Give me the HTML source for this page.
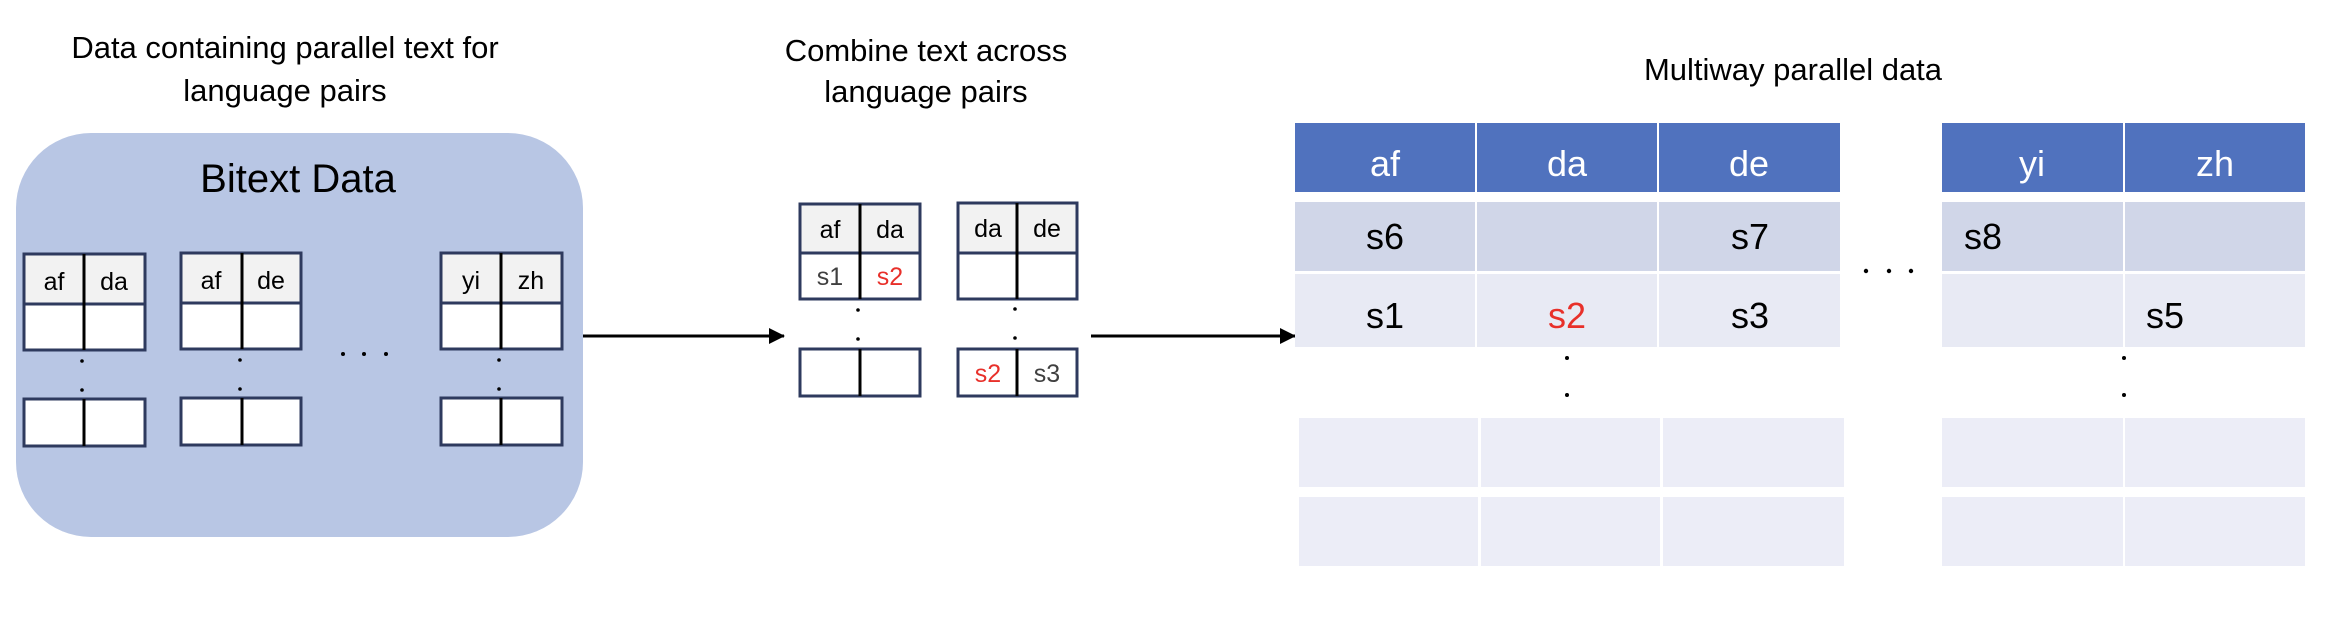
<!DOCTYPE html>
<html><head><meta charset="utf-8"><style>
html,body{margin:0;padding:0;background:#fff;}
svg{display:block;}
text{font-family:"Liberation Sans",sans-serif;}
</style></head><body>
<svg width="2328" height="620" viewBox="0 0 2328 620" xmlns="http://www.w3.org/2000/svg">
<defs>
<marker id="ah" markerWidth="16" markerHeight="16" refX="15" refY="8" orient="auto" markerUnits="userSpaceOnUse">
<path d="M0,0 L16,8 L0,16 z" fill="#000"/>
</marker>
</defs>
<g font-size="31" fill="#000" text-anchor="middle">
<text x="285" y="58">Data containing parallel text for</text>
<text x="285" y="101">language pairs</text>
<text x="926" y="61">Combine text across</text>
<text x="926" y="102">language pairs</text>
<text x="1793" y="80">Multiway parallel data</text>
</g>
<rect x="16" y="133" width="567" height="404" rx="75" ry="75" fill="#b8c6e4"/>
<text x="298" y="192" font-size="40" text-anchor="middle">Bitext Data</text>

<g stroke-width="3">
<rect x="24" y="254" width="121" height="50" fill="#f2f2f2" stroke="#2e3a5e"/>
<rect x="24" y="304" width="121" height="46" fill="#fff" stroke="#2e3a5e"/>
<line x1="84" y1="254" x2="84" y2="350" stroke="#000"/>
<rect x="24" y="399" width="121" height="47" fill="#fff" stroke="#2e3a5e"/>
<line x1="84" y1="399" x2="84" y2="446" stroke="#000"/>
<rect x="181" y="253" width="120" height="50" fill="#f2f2f2" stroke="#2e3a5e"/>
<rect x="181" y="303" width="120" height="46" fill="#fff" stroke="#2e3a5e"/>
<line x1="242" y1="253" x2="242" y2="349" stroke="#000"/>
<rect x="181" y="398" width="120" height="47" fill="#fff" stroke="#2e3a5e"/>
<line x1="242" y1="398" x2="242" y2="445" stroke="#000"/>
<rect x="441" y="253" width="121" height="50" fill="#f2f2f2" stroke="#2e3a5e"/>
<rect x="441" y="303" width="121" height="46" fill="#fff" stroke="#2e3a5e"/>
<line x1="501" y1="253" x2="501" y2="349" stroke="#000"/>
<rect x="441" y="398" width="121" height="47" fill="#fff" stroke="#2e3a5e"/>
<line x1="501" y1="398" x2="501" y2="445" stroke="#000"/>
<rect x="800" y="204" width="120" height="49" fill="#f2f2f2" stroke="#2e3a5e"/>
<rect x="800" y="253" width="120" height="46" fill="#fff" stroke="#2e3a5e"/>
<line x1="860" y1="204" x2="860" y2="299" stroke="#000"/>
<rect x="800" y="349" width="120" height="47" fill="#fff" stroke="#2e3a5e"/>
<line x1="860" y1="349" x2="860" y2="396" stroke="#000"/>
<rect x="958" y="203" width="119" height="50" fill="#f2f2f2" stroke="#2e3a5e"/>
<rect x="958" y="253" width="119" height="46" fill="#fff" stroke="#2e3a5e"/>
<line x1="1017" y1="203" x2="1017" y2="299" stroke="#000"/>
<rect x="958" y="349" width="119" height="47" fill="#fff" stroke="#2e3a5e"/>
<line x1="1017" y1="349" x2="1017" y2="396" stroke="#000"/>
</g>
<g font-size="25" text-anchor="middle" fill="#000">
<text x="54" y="290">af</text><text x="114" y="290">da</text>
<text x="211" y="289">af</text><text x="271" y="289">de</text>
<text x="471" y="289">yi</text><text x="531" y="289">zh</text>
<text x="830" y="238">af</text><text x="890" y="238">da</text>
<text x="988" y="237">da</text><text x="1047" y="237">de</text>
<text x="830" y="285" fill="#404040">s1</text><text x="890" y="285" fill="#e8302a">s2</text>
<text x="988" y="382" fill="#e8302a">s2</text><text x="1047" y="382" fill="#404040">s3</text>
</g>
<g fill="#000">
<circle cx="82" cy="361" r="1.8"/><circle cx="82" cy="390" r="1.8"/>
<circle cx="240" cy="360" r="1.8"/><circle cx="240" cy="389" r="1.8"/>
<circle cx="499" cy="360" r="1.8"/><circle cx="499" cy="389" r="1.8"/>
<circle cx="343" cy="354" r="2"/><circle cx="364" cy="354" r="2"/><circle cx="386" cy="354" r="2"/>
<circle cx="858" cy="310" r="1.8"/><circle cx="858" cy="339" r="1.8"/>
<circle cx="1015" cy="309" r="1.8"/><circle cx="1015" cy="338" r="1.8"/>
<circle cx="1567" cy="358" r="2"/><circle cx="1567" cy="395" r="2"/>
<circle cx="2124" cy="358" r="2"/><circle cx="2124" cy="395" r="2"/>
<circle cx="1866" cy="271" r="2.2"/><circle cx="1889" cy="271" r="2.2"/><circle cx="1911" cy="271" r="2.2"/>
</g>
<line x1="583" y1="336" x2="784" y2="336" stroke="#000" stroke-width="3" marker-end="url(#ah)"/>
<line x1="1091" y1="336" x2="1295" y2="336" stroke="#000" stroke-width="3" marker-end="url(#ah)"/>
<g>
<rect x="1295" y="123" width="180" height="69" fill="#5072be"/>
<rect x="1477" y="123" width="180" height="69" fill="#5072be"/>
<rect x="1659" y="123" width="181" height="69" fill="#5072be"/>
<rect x="1942" y="123" width="181" height="69" fill="#5072be"/>
<rect x="2125" y="123" width="180" height="69" fill="#5072be"/>
<rect x="1295" y="202" width="180" height="69" fill="#d0d6e8"/>
<rect x="1477" y="202" width="180" height="69" fill="#d0d6e8"/>
<rect x="1659" y="202" width="181" height="69" fill="#d0d6e8"/>
<rect x="1942" y="202" width="181" height="69" fill="#d0d6e8"/>
<rect x="2125" y="202" width="180" height="69" fill="#d0d6e8"/>
<rect x="1295" y="274" width="180" height="73" fill="#e8eaf4"/>
<rect x="1477" y="274" width="180" height="73" fill="#e8eaf4"/>
<rect x="1659" y="274" width="181" height="73" fill="#e8eaf4"/>
<rect x="1942" y="274" width="181" height="73" fill="#e8eaf4"/>
<rect x="2125" y="274" width="180" height="73" fill="#e8eaf4"/>
<rect x="1299" y="418" width="179" height="69" fill="#ecedf7"/>
<rect x="1481" y="418" width="179" height="69" fill="#ecedf7"/>
<rect x="1663" y="418" width="181" height="69" fill="#ecedf7"/>
<rect x="1942" y="418" width="181" height="69" fill="#ecedf7"/>
<rect x="2125" y="418" width="180" height="69" fill="#ecedf7"/>
<rect x="1299" y="497" width="179" height="69" fill="#ecedf7"/>
<rect x="1481" y="497" width="179" height="69" fill="#ecedf7"/>
<rect x="1663" y="497" width="181" height="69" fill="#ecedf7"/>
<rect x="1942" y="497" width="181" height="69" fill="#ecedf7"/>
<rect x="2125" y="497" width="180" height="69" fill="#ecedf7"/>
</g>
<g font-size="36" text-anchor="middle" fill="#fff">
<text x="1385" y="176">af</text><text x="1567" y="176">da</text><text x="1749" y="176">de</text>
<text x="2032" y="176">yi</text><text x="2215" y="176">zh</text>
</g>
<g font-size="36" text-anchor="middle" fill="#000">
<text x="1385" y="249">s6</text><text x="1750" y="249">s7</text><text x="1983" y="249">s8</text>
<text x="1385" y="328">s1</text><text x="1567" y="328" fill="#e8302a">s2</text><text x="1750" y="328">s3</text>
<text x="2165" y="328">s5</text>
</g>
</svg>
</body></html>
